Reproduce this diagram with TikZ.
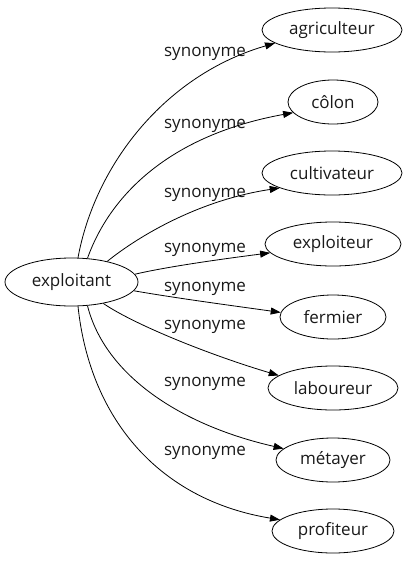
\documentclass[tikz,border=0pt]{standalone}
\usepackage{fontspec}
\setmainfont{Open Sans}
\usetikzlibrary{shapes.geometric,arrows.meta}
\begin{document}
\begin{tikzpicture}[x=1pt,y=-1pt,
  word/.style={draw,ellipse,inner sep=0pt,line width=0.8pt,font=\fontsize{17}{19}\selectfont,text=black!90},
  rel/.style={font=\fontsize{17}{19}\selectfont,text=black!90,inner sep=0pt},
  link/.style={line width=0.8pt,-{Triangle[length=10pt,width=7pt]}}]
\useasboundingbox (0,0) rectangle (409,563);
\node[word,minimum width=133pt,minimum height=48pt] (e) at (71.5,282) {exploitant};
\node[word,minimum width=140pt,minimum height=44pt] (a) at (332,30) {agriculteur};
\node[word,minimum width=90pt,minimum height=44pt] (c) at (333,102) {côlon};
\node[word,minimum width=140pt,minimum height=44pt] (cu) at (332,173) {cultivateur};
\node[word,minimum width=136pt,minimum height=44pt] (ex) at (333,244) {exploiteur};
\node[word,minimum width=106pt,minimum height=44pt] (f) at (333,317) {fermier};
\node[word,minimum width=130pt,minimum height=44pt] (l) at (333,388) {laboureur};
\node[word,minimum width=114pt,minimum height=44pt] (m) at (333,460) {métayer};
\node[word,minimum width=122pt,minimum height=44pt] (p) at (333,531) {profiteur};
\node[rel] (s1) at (205,54) {synonyme};
\node[rel] (s2) at (205,126) {synonyme};
\node[rel] (s3) at (205,195) {synonyme};
\node[rel] (s4) at (205,250) {synonyme};
\node[rel] (s5) at (205,289) {synonyme};
\node[rel] (s6) at (205,327) {synonyme};
\node[rel] (s7) at (205,384) {synonyme};
\node[rel] (s8) at (205,453) {synonyme};
\draw[link] (e.75) .. controls (95,165) and (165,75) .. (a.193);
\draw[link] (e.56) .. controls (110,195) and (170,135) .. (c.195);
\draw[link] (e.30) .. controls (140,235) and (200,200) .. (cu.196);
\draw[link] (e.7) .. controls (170,266) and (230,258) .. (ex.188);
\draw[link] (e.-8) .. controls (175,298) and (235,306) .. (f.175);
\draw[link] (e.-34) .. controls (135,325) and (210,355) .. (l.167);
\draw[link] (e.-56) .. controls (105,375) and (180,425) .. (m.167);
\draw[link] (e.-75) .. controls (90,420) and (160,500) .. (p.168);
\end{tikzpicture}
\end{document}
